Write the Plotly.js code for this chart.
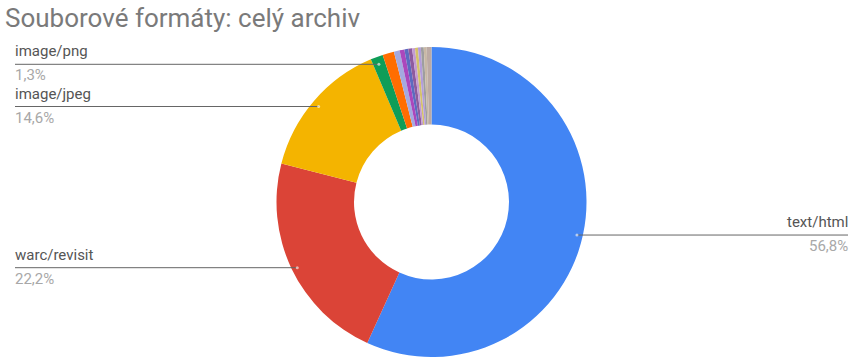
<!DOCTYPE html>
<html>
<head>
<meta charset="utf-8">
<script src="https://cdn.plot.ly/plotly-3.0.1.min.js"></script>
<style>html,body{margin:0;padding:0;background:#fff;}#chart{width:856px;height:361px;}</style>
</head>
<body>
<div id="chart"></div>
<script>
// ---- data ----
const formats = ["text/html","warc/revisit","image/jpeg","image/png",
  "application/javascript","text/css","image/gif","application/pdf","application/json",
  "text/plain","image/svg+xml","font/woff","application/xml","application/x-shockwave-flash","ostatní"];
const shares = [56.8, 22.2, 14.6, 1.3, 1.2, 0.6, 0.5, 0.4, 0.4, 0.3, 0.3, 0.3, 0.3, 0.3, 0.5];
const labelled = ["text/html","warc/revisit","image/jpeg","image/png"];
const sliceColors = ["#4285F4","#DB4437","#F4B400","#0F9D58","#FF6D01","#A4A9E0","#AB47BC","#5C6BC0",
  "#8E5B9E","#C39BD3","#D4C26A","#B39DDB","#9E9E9E","#C8B8A6","#BCAAA4"];

// ---- layout geometry ----
const W = 856, H = 361;
const pieDomainPx = {x0: 276.5, x1: 586.5, y0: 47, y1: 357};
const cx = (pieDomainPx.x0 + pieDomainPx.x1) / 2, cy = (pieDomainPx.y0 + pieDomainPx.y1) / 2;
const R = (pieDomainPx.x1 - pieDomainPx.x0) / 2;
const px = x => x / W, py = y => 1 - y / H;

const total = shares.reduce((a, b) => a + b, 0);
const fmt = v => v.toFixed(1).replace(".", ",") + "%";

const shapes = [], annotations = [];
let cum = 0;
shares.forEach((v, i) => {
  const mid = (cum + v / 2) / total * 2 * Math.PI;
  cum += v;
  if (!labelled.includes(formats[i])) return;
  const dx = cx + Math.sin(mid) * R * 0.96;
  const dy = cy - Math.cos(mid) * R * 0.96 + 1.5;
  const right = Math.sin(mid) > 0;
  const lineX = right ? 848 : 15;
  const textX = right ? 850 : 13;
  shapes.push({type: "line", xref: "paper", yref: "paper", x0: px(lineX), x1: px(dx), y0: py(dy), y1: py(dy),
    line: {color: "#666666", width: 1}});
  shapes.push({type: "circle", xref: "paper", yref: "paper", x0: px(dx - 1.5), x1: px(dx + 1.5),
    y0: py(dy + 1.5), y1: py(dy - 1.5), fillcolor: "rgba(255,255,255,0.6)", line: {width: 0}});
  annotations.push({xref: "paper", yref: "paper", x: px(textX), y: py(dy - 2), xanchor: right ? "right" : "left",
    yanchor: "bottom", text: formats[i], showarrow: false, font: {family: "Roboto", size: 15, color: "#555555"}});
  annotations.push({xref: "paper", yref: "paper", x: px(textX), y: py(dy), xanchor: right ? "right" : "left",
    yanchor: "top", text: fmt(v), showarrow: false, font: {family: "Roboto", size: 15, color: "#A8A8A8"}});
});

annotations.push({xref: "paper", yref: "paper", x: px(3), y: py(18), xanchor: "left", yanchor: "middle",
  text: "Souborové formáty: celý archiv", showarrow: false, font: {family: "Roboto", size: 26, color: "#7A7A7A"}});

const trace = {
  type: "pie", labels: formats, values: shares, hole: 0.5, sort: false, direction: "clockwise", rotation: 0,
  textinfo: "none", hoverinfo: "label+percent",
  marker: {colors: sliceColors, line: {color: "#ffffff", width: 0}},
  domain: {x: [px(pieDomainPx.x0), px(pieDomainPx.x1)], y: [py(pieDomainPx.y1), py(pieDomainPx.y0)]}
};

Plotly.newPlot("chart", [trace], {
  width: W, height: H, margin: {l: 0, r: 0, t: 0, b: 0}, showlegend: false,
  paper_bgcolor: "#ffffff", shapes: shapes, annotations: annotations
}, {displayModeBar: false, staticPlot: true});
</script>
</body>
</html>
